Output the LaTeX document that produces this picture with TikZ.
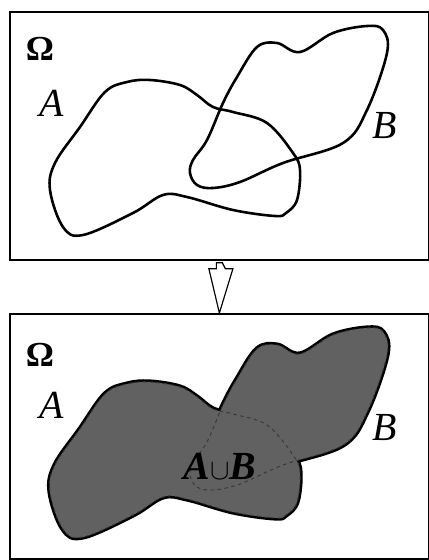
\documentclass[tikz,border=0pt]{standalone}
\usepackage{fontspec}
\setmainfont{Liberation Serif}
\usetikzlibrary{calc,positioning}

\tikzset{
 setbox/.style={draw,line width=1.5pt,minimum width=12.57cm,minimum height=7.44cm,inner sep=0pt},
 setA/.style={insert path={plot[smooth cycle,tension=.6] coordinates{(127,82) (150,80) (180,85) (197,95) (213,107) (233,112) (267,123) (293,153) (300,170) (297,200) (286,213) (275,216) (233,210) (187,197) (163,195) (133,213) (83,235) (63,227) (50,190) (55,163) (80,127) (105,92)}}},
 setB/.style={insert path={plot[smooth cycle,tension=.6] coordinates{(190,173) (197,185) (213,188) (240,182) (283,163) (343,143) (367,110) (387,53) (383,30) (367,26) (333,33) (300,52) (277,43) (257,47) (237,77) (223,103) (207,140) (193,160)}}},
 lbl/.style={font=\fontsize{34}{38}\selectfont\itshape,inner sep=0pt},
 unionlbl/.style={font=\fontsize{34}{38}\selectfont\bfseries\itshape,inner sep=0pt},
 omega/.style={font=\fontsize{30}{34}\selectfont\bfseries,inner sep=0pt},
}

\begin{document}
\begin{tikzpicture}[x=.03cm,y=-.03cm]
\useasboundingbox (0,0) rectangle (429,560);
% the two frames
\node[setbox,anchor=north west] (top) at (9,11) {};
\node[setbox,anchor=north west,minimum height=7.35cm] (bot) at (9,313) {};
% hollow arrow between them
\draw[line width=1pt,line join=miter] ($(top.south)+(-3,2)$) -- ++(0,6) -- ++(-7.5,0)
 -- (bot.north) -- ($(top.south)+(13.5,8)$) -- ++(-7.5,0) -- ($(top.south)+(3,2)$) -- cycle;
% upper frame: A and B
\draw[line width=2.2pt,setA];
\draw[line width=2.2pt,setB];
\node[omega] (om1) at (40,49) {Ω};
\node[lbl] (a1) at (52,103) {A};
\node[lbl] (b1) at (385,126) {B};
% lower frame: the union
\begin{scope}[shift={(0,302)}]
\draw[line width=4.4pt,setA];
\draw[line width=4.4pt,setB];
\fill[black!62,setA];
\fill[black!62,setB];
\draw[black!78,dashed,line width=.8pt,setA];
\draw[black!78,dashed,line width=.8pt,setB];
\node[omega] (om2) at (40,53) {Ω};
\node[lbl] (a2) at (52,103) {A};
\node[lbl] (b2) at (385,126) {B};
\node[unionlbl] (ab) at (220,164) {A$\cup$B};
\end{scope}
\end{tikzpicture}
\end{document}
